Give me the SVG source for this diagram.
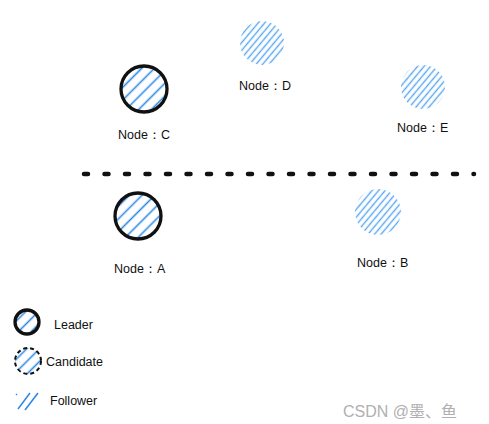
<svg xmlns="http://www.w3.org/2000/svg" width="489" height="424" viewBox="0 0 489 424">
<style>
text{font-family:"Liberation Sans",Arial,sans-serif;font-size:12.5px;fill:#111}
.ring{fill:none;stroke:#111;stroke-width:3.3}
.wm{font-family:"Liberation Sans","Noto Sans CJK SC",sans-serif;font-size:16px;fill:#b0b0b0}
</style>
<defs>
<pattern id="hl" width="9" height="9" patternUnits="userSpaceOnUse" patternTransform="rotate(-45)">
<line x1="0" y1="4.5" x2="9" y2="4.5" stroke="#2f8ae6" stroke-width="1.6"/>
</pattern>
<pattern id="hf" width="5" height="5" patternUnits="userSpaceOnUse" patternTransform="rotate(-50)">
<line x1="0" y1="2.5" x2="5" y2="2.5" stroke="#5aa6f0" stroke-width="1.4"/>
</pattern>
</defs>
<rect width="489" height="424" fill="#fff"/>
<g id="connectors">
<line x1="84" y1="174" x2="474" y2="174" stroke="#111" stroke-width="4.5" stroke-linecap="round" stroke-dasharray="4 16.5"/>
</g>
<g id="nodeC">
<circle cx="144" cy="89" r="23" fill="url(#hl)"/>
<circle cx="144" cy="89" r="23" class="ring"/>
<text x="118" y="139">Node：C</text>
</g>
<g id="nodeD">
<circle cx="262" cy="43" r="22" fill="url(#hf)"/>
<text x="239" y="90">Node：D</text>
</g>
<g id="nodeE">
<circle cx="423" cy="87" r="22" fill="url(#hf)"/>
<text x="397" y="132">Node：E</text>
</g>
<g id="nodeA">
<circle cx="138" cy="216" r="23" fill="url(#hl)"/>
<circle cx="138" cy="216" r="23" class="ring"/>
<text x="114" y="273">Node：A</text>
</g>
<g id="nodeB">
<circle cx="378" cy="212" r="23" fill="url(#hf)"/>
<text x="357" y="267">Node：B</text>
</g>
<g id="legend-leader">
<circle cx="27" cy="322" r="12" fill="url(#hl)"/>
<circle cx="27" cy="322" r="12" class="ring"/>
<text x="54" y="329">Leader</text>
</g>
<g id="legend-candidate">
<circle cx="28" cy="361" r="13" fill="url(#hl)"/>
<circle cx="28" cy="361" r="13" fill="none" stroke="#111" stroke-width="2" stroke-dasharray="4 3"/>
<text x="46" y="366">Candidate</text>
</g>
<g id="legend-follower">
<line x1="18" y1="409" x2="30" y2="393" stroke="#2f8ae6" stroke-width="1.6"/>
<line x1="25" y1="410" x2="38" y2="393" stroke="#2f8ae6" stroke-width="1.6"/>
<line x1="16" y1="395" x2="17" y2="394" stroke="#2f8ae6" stroke-width="1.2"/>
<text x="50" y="405">Follower</text>
</g>
<text class="wm" x="343" y="417">CSDN @墨、鱼</text>
</svg>
